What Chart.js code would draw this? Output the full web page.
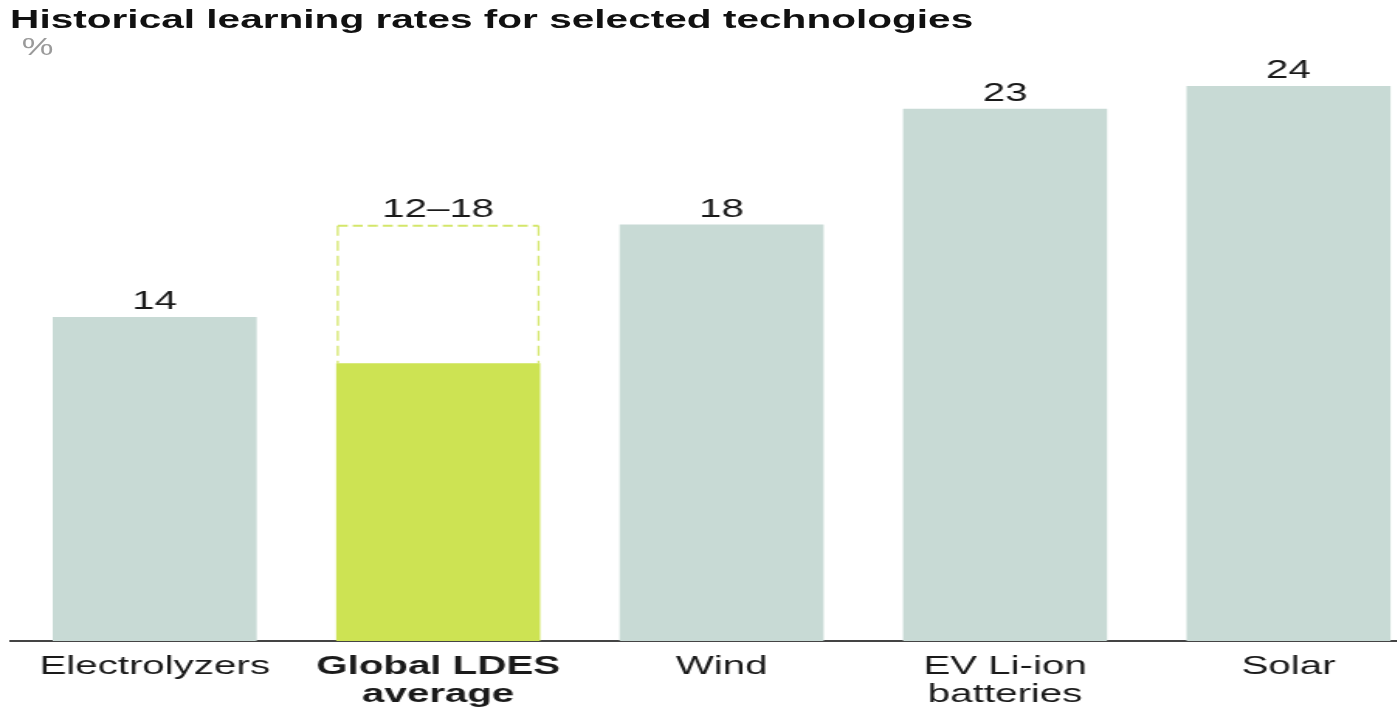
<!DOCTYPE html>
<html lang="en">
<head>
  <meta charset="UTF-8">
  <title>Historical learning rates</title>
  <script src="https://cdn.jsdelivr.net/npm/chart.js"></script>
  <style>
    body {
      margin: 0;
      background: #fff;
      font-family: 'Liberation Sans', Arial, sans-serif;
      overflow: hidden;
    }
    /* the source picture is stretched sideways, so the whole drawing is too */
    #wrap {
      position: relative;
      width: 902px;
      height: 708px;
      transform: scaleX(1.55);
      transform-origin: 0 0;
    }
    #title {
      position: absolute;
      left: 6.5px;
      top: 4px;
      font-size: 26.2px;
      font-weight: bold;
      color: #111;
      white-space: nowrap;
    }
    #unit {
      position: absolute;
      left: 14px;
      top: 34px;
      font-size: 23px;
      color: #9a9a9a;
    }
    canvas {
      position: absolute;
      left: 0;
      top: 0;
    }
  </style>
</head>
<body>
  <div id="wrap">
    <canvas id="chart" width="902" height="708"></canvas>
    <div id="title">Historical learning rates for selected technologies</div>
    <div id="unit">%</div>
  </div>

  <script>
    const categories = ["Electrolyzers", ["Global LDES", "average"], "Wind", ["EV Li-ion", "batteries"], "Solar"];
    const positions = [0, 1, 2, 3, 4];
    const barValues = [14, 12, 18, 23, 24];
    const rangeHigh = [null, 18, null, null, null];
    const valueLabels = ["14", "12–18", "18", "23", "24"];
    const barColors = ["#c8dad5", "#cde353", "#c8dad5", "#c8dad5", "#c8dad5"];

    const FONT = "'Liberation Sans', Arial, sans-serif";
    const STRETCH = 1.55;

    // dashed outline for the range bar + value labels above bars
    const overlayPlugin = {
      id: "overlay",
      afterDatasetsDraw(chart) {
        const c = chart.ctx;
        const barMeta = chart.getDatasetMeta(0);
        const rangeMeta = chart.getDatasetMeta(1);
        c.save();
        c.strokeStyle = "#d4e66a";
        rangeMeta.data.forEach((el, i) => {
          if (rangeHigh[i] == null) return;
          const half = el.width / 2;
          const l = el.x - half + 0.7, r = el.x + half - 0.7, t = el.y + 1;
          // verticals (thinner, since they get stretched)
          c.lineWidth = 2 / STRETCH;
          c.setLineDash([10, 5]);
          c.beginPath();
          c.moveTo(l, t); c.lineTo(l, el.base);
          c.moveTo(r, t); c.lineTo(r, el.base);
          c.stroke();
          // top edge
          c.lineWidth = 2;
          c.setLineDash([10 / STRETCH, 5 / STRETCH]);
          c.beginPath();
          c.moveTo(l, t); c.lineTo(r, t);
          c.stroke();
        });
        c.setLineDash([]);
        c.fillStyle = "#1a1a1a";
        c.font = "26px " + FONT;
        c.textAlign = "center";
        c.textBaseline = "alphabetic";
        barMeta.data.forEach((el, i) => {
          const top = rangeHigh[i] != null ? rangeMeta.data[i].y : el.y;
          c.fillText(valueLabels[i], el.x, top - 8);
        });
        c.restore();
      }
    };

    new Chart(document.getElementById("chart"), {
      type: "bar",
      data: {
        datasets: [
          {
            data: positions.map((p, i) => ({ x: p, y: barValues[i] })),
            backgroundColor: barColors,
            borderWidth: 0,
            barThickness: 203 / STRETCH,
            grouped: false
          },
          {
            data: positions.map((p, i) => ({ x: p, y: rangeHigh[i] == null ? null : [barValues[i], rangeHigh[i]] })),
            backgroundColor: "rgba(0,0,0,0)",
            borderWidth: 0,
            barThickness: 203 / STRETCH,
            grouped: false
          }
        ]
      },
      options: {
        responsive: false,
        animation: false,
        layout: { padding: { left: 6.5, right: 0, top: 86, bottom: 0 } },
        plugins: {
          legend: { display: false },
          tooltip: { enabled: false }
        },
        scales: {
          x: {
            type: "linear",
            offset: false,
            min: -0.5102,
            max: 4.3866,
            grid: { display: false },
            border: { display: true, color: "#444", width: 2 },
            afterBuildTicks: (scale) => {
              scale.ticks = positions.map(v => ({ value: v }));
            },
            afterFit: (scale) => { scale.height = 67; },
            ticks: {
              autoSkip: false,
              maxRotation: 0,
              padding: 4,
              color: "#1a1a1a",
              font: (ctx) => ({ family: FONT, size: 26, weight: ctx.index === 1 ? "bold" : "normal", lineHeight: 1.08 }),
              callback: (value, index) => categories[index]
            }
          },
          y: {
            display: false,
            min: 0,
            max: 24
          }
        }
      },
      plugins: [overlayPlugin]
    });
  </script>
</body>
</html>
